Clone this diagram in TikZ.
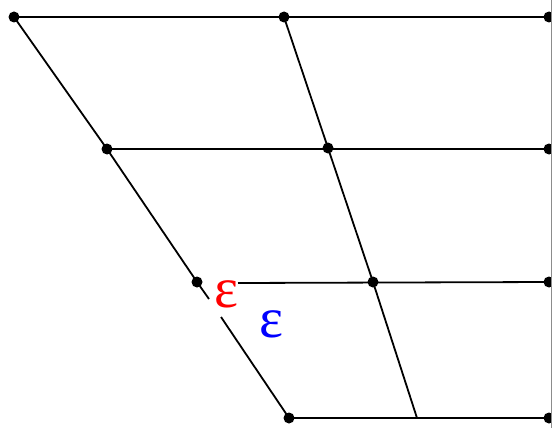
\documentclass[tikz,border=0pt]{standalone}
\usepackage{fontspec}
\newfontfamily\epsfont{Liberation Serif}
\begin{document}
\begin{tikzpicture}[x=1pt,y=-1pt,
  dot/.style={circle,fill=black,inner sep=0pt,minimum size=11pt},
  edge/.style={line width=1.8pt,black},
  eps/.style={font=\epsfont\fontsize{57}{57}\selectfont,inner sep=0pt}]
\useasboundingbox (0,0) rectangle (552,428);
\node[dot] (a1) at (14,17) {};
\node[dot] (a2) at (284,17) {};
\node[dot] (a3) at (549,17) {};
\node[dot] (b1) at (107,149) {};
\node[dot] (b2) at (328,148) {};
\node[dot] (b3) at (549,149) {};
\node[dot] (c1) at (197,282) {};
\node[dot] (c2) at (373,282) {};
\node[dot] (c3) at (549,282) {};
\node[dot] (d1) at (289,418) {};
\coordinate (d2) at (417,418);
\node[dot] (d3) at (549,418) {};
\coordinate (g1) at (209,299);
\coordinate (g2) at (221,317);
\coordinate (h1) at (238,283);
\coordinate (rt) at (551,0);
\coordinate (rb) at (551,428);
\draw[edge] (a1.center) -- (a3.center);
\draw[edge] (b1.center) -- (b3.center);
\draw[edge] (h1) -- (c3.center);
\draw[edge] (d1.center) -- (d3.center);
\draw[edge] (a1.center) -- (b1.center) -- (c1.center) -- (g1);
\draw[edge] (g2) -- (d1.center);
\draw[edge] (a2.center) -- (b2.center) -- (c2.center) -- (d2);
\draw[line width=0.8pt,black!45] (rt) -- (rb);
\node[eps,text=red] (e1) at (226,294) {ε};
\node[eps,text=blue] (e2) at (271,324) {ε};
\end{tikzpicture}
\end{document}
